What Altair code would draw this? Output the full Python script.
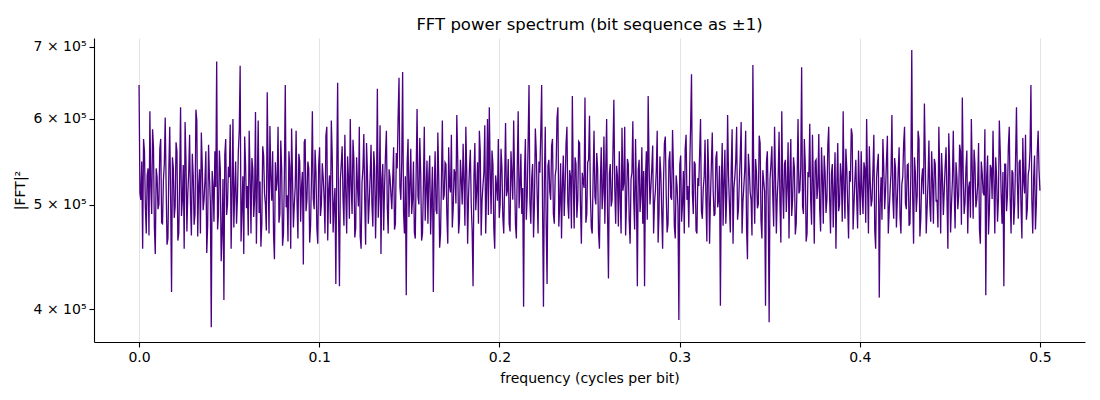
import altair as alt
import pandas as pd

# |FFT|^2 values, in thousands
power_k = [
    645, 512, 505, 548, 455, 575, 560, 498, 470, 532, 540, 468, 610, 520, 490, 587, 565, 476, 450, 540,
    530, 495, 500, 563, 575, 481, 480, 527, 545, 602, 520, 459, 465, 538, 590, 507, 415, 553, 540, 486,
    498, 571, 560, 463, 470, 529, 615, 488, 505, 544, 455, 596, 548, 472, 512, 535, 580, 501, 468, 557,
    532, 479, 490, 612, 598, 467, 520, 539, 470, 583, 545, 494, 505, 526, 560, 451, 478, 568, 530, 503,
    385, 537, 520, 482, 560, 519, 678, 474, 490, 561, 540, 443, 470, 528, 408, 556, 575, 489, 500, 542,
    530, 593, 455, 511, 600, 476, 515, 548, 480, 507, 560, 585, 672, 462, 495, 531, 450, 578, 545, 496,
    520, 468, 585, 533, 470, 552, 540, 487, 505, 609, 460, 524, 598, 491, 525, 457, 480, 566, 555, 512,
    500, 473, 635, 538, 470, 591, 530, 504, 560, 469, 445, 547, 515, 525, 590, 481, 490, 573, 540, 458,
    470, 534, 645, 497, 510, 462, 560, 541, 455, 588, 530, 476, 500, 519, 585, 503, 465, 557, 548, 482,
    520, 536, 440, 571, 575, 493, 505, 548, 540, 461, 478, 529, 610, 506, 495, 562, 535, 475, 460, 544,
    565, 488, 500, 546, 530, 507, 470, 579, 590, 463, 515, 532, 480, 598, 555, 471, 500, 518, 422, 539,
    648, 492, 420, 527, 545, 566, 505, 478, 580, 513, 470, 554, 530, 485, 600, 521, 490, 574, 550, 466,
    475, 553, 520, 498, 590, 467, 455, 524, 540, 581, 505, 459, 570, 536, 480, 502, 530, 568, 500, 477,
    560, 541, 465, 515, 640, 486, 510, 592, 450, 528, 545, 473, 520, 556, 585, 497, 470, 539, 530, 511,
    495, 527, 565, 474, 480, 558, 540, 603, 655, 519, 505, 548, 663, 492, 470, 531, 412, 546, 575, 487,
    520, 563, 490, 505, 548, 471, 465, 537, 613, 509, 500, 576, 535, 463, 470, 522, 590, 483, 515, 549,
    480, 531, 555, 469, 505, 542, 415, 517, 560, 494, 490, 583, 530, 456, 470, 528, 598, 505, 510, 547,
    545, 488, 460, 565, 520, 513, 580, 476, 495, 539, 535, 501, 605, 552, 470, 484, 550, 527, 500, 569,
    525, 478, 590, 536, 460, 509, 540, 562, 500, 473, 420, 531, 570, 494, 515, 547, 480, 585, 560, 468,
    505, 521, 535, 592, 470, 514, 600, 489, 615, 538, 490, 561, 545, 475, 455, 532, 520, 504, 575, 486,
    500, 563, 540, 487, 470, 524, 595, 509, 515, 551, 480, 472, 560, 534, 505, 598, 530, 479, 465, 543,
    610, 496, 520, 557, 490, 518, 402, 536, 575, 484, 510, 571, 645, 503, 480, 529, 545, 466, 500, 588,
    560, 511, 470, 548, 535, 582, 645, 497, 402, 526, 590, 479, 422, 543, 550, 514, 505, 566, 575, 490,
    480, 532, 540, 601, 615, 477, 500, 546, 465, 521, 555, 488, 520, 569, 590, 502, 485, 538, 530, 475,
    630, 527, 475, 553, 545, 486, 505, 572, 570, 499, 460, 535, 525, 518, 628, 481, 490, 547, 550, 604,
    510, 476, 470, 529, 585, 508, 500, 558, 540, 471, 455, 523, 565, 495, 515, 578, 480, 542, 600, 489,
    427, 534, 545, 498, 505, 561, 625, 517, 480, 543, 530, 477, 560, 506, 470, 589, 515, 523, 590, 468,
    500, 551, 545, 483, 460, 528, 535, 597, 505, 474, 575, 512, 420, 539, 550, 492, 510, 565, 480, 537,
    420, 529, 560, 484, 630, 545, 500, 519, 540, 567, 470, 502, 515, 538, 585, 461, 490, 554, 535, 493,
    455, 526, 570, 578, 510, 471, 480, 549, 560, 508, 505, 586, 540, 477, 465, 532, 520, 496, 391, 544,
    555, 482, 500, 537, 470, 563, 580, 505, 520, 476, 540, 591, 660, 511, 490, 548, 545, 473, 470, 529,
    520, 558, 600, 493, 485, 517, 530, 574, 505, 462, 575, 536, 460, 507, 545, 583, 515, 488, 490, 552,
    560, 497, 505, 543, 403, 521, 570, 478, 525, 562, 480, 509, 605, 532, 500, 471, 540, 587, 460, 518,
    530, 549, 590, 484, 495, 526, 555, 596, 470, 503, 520, 539, 585, 475, 445, 557, 540, 513, 505, 468,
    673, 522, 480, 551, 535, 496, 500, 579, 570, 483, 465, 538, 525, 514, 403, 547, 560, 502, 389, 528,
    545, 566, 510, 477, 590, 533, 470, 509, 530, 584, 500, 461, 610, 519, 485, 545, 550, 492, 520, 571,
    465, 534, 575, 488, 505, 553, 540, 469, 480, 527, 600, 512, 515, 541, 670, 498, 490, 575, 545, 462,
    470, 536, 530, 594, 505, 479, 580, 523, 460, 548, 550, 506, 520, 581, 495, 472, 565, 530, 480, 555,
    535, 491, 505, 567, 590, 508, 470, 534, 545, 476, 515, 559, 455, 521, 570, 493, 500, 546, 530, 482,
    610, 517, 485, 563, 540, 499, 465, 537, 525, 588, 580, 474, 500, 528, 550, 506, 475, 561, 520, 489,
    560, 513, 490, 547, 540, 481, 600, 524, 470, 566, 525, 498, 505, 539, 580, 473, 455, 529, 545, 557,
    410, 502, 530, 484, 575, 541, 495, 516, 550, 579, 470, 493, 515, 535, 605, 507, 485, 552, 540, 476,
    505, 538, 565, 487, 470, 522, 530, 569, 590, 501, 495, 544, 545, 478, 480, 536, 695, 509, 460, 553,
    535, 492, 510, 585, 575, 467, 485, 528, 540, 511, 620, 549, 470, 496, 525, 573, 500, 482, 560, 527,
    480, 551, 545, 503, 505, 476, 590, 532, 470, 558, 530, 489, 515, 543, 565, 507, 455, 582, 540, 471,
    500, 526, 585, 514, 475, 547, 530, 495, 510, 568, 560, 479, 628, 534, 490, 502, 540, 561, 470, 518,
    525, 486, 600, 539, 485, 562, 545, 497, 505, 521, 570, 474, 460, 548, 535, 513, 510, 587, 412, 531,
    555, 469, 495, 544, 540, 506, 585, 527, 470, 553, 530, 482, 505, 598, 560, 511, 480, 536, 420, 545,
    545, 493, 510, 566, 590, 507, 470, 538, 535, 479, 500, 552, 615, 524, 485, 547, 550, 498, 465, 576,
    525, 512, 580, 484, 495, 533, 540, 561, 645, 505, 470, 529, 555, 474, 500, 558, 585, 537, 515,
]

n = len(power_k)
freq = [i * 0.5 / (n - 1) for i in range(n)]
df = pd.DataFrame({"freq": freq, "power": [v * 1000 for v in power_k]})

x_ticks = [0.0, 0.1, 0.2, 0.3, 0.4, 0.5]
y_ticks = [400000, 500000, 600000, 700000]

FONT = "DejaVu Sans"

chart = alt.Chart(df).mark_line(color="#4B0082", strokeWidth=1.3, clip=True).encode(
    x=alt.X(
        "freq:Q",
        scale=alt.Scale(domain=[-0.025, 0.525], nice=False, zero=False),
        axis=alt.Axis(
            values=x_ticks, format=".1f", title="frequency (cycles per bit)",
            grid=True, gridColor="#e3e3e3", gridWidth=1,
            titlePadding=7,
        ),
    ),
    y=alt.Y(
        "power:Q",
        scale=alt.Scale(type="log", domain=[373000, 713000], nice=False),
        axis=alt.Axis(
            values=y_ticks, grid=False, title="|FFT|²",
            labelExpr="format(datum.value / 100000, 'd') + ' × 10⁵'",
            titlePadding=6,
        ),
    ),
).properties(
    width=991,
    height=304,
    title=alt.TitleParams(
        "FFT power spectrum (bit sequence as ±1)",
        font=FONT, fontSize=16.5, fontWeight="normal", color="black", offset=5,
    ),
    padding={"left": 86, "top": 30, "right": 5, "bottom": 50},
    autosize=alt.AutoSizeParams(type="none"),
).configure_view(
    stroke=None
).configure_axis(
    labelFont=FONT, titleFont=FONT, labelFontSize=14, titleFontSize=14,
    titleFontWeight="normal", labelColor="black", titleColor="black",
    domainColor="black", tickColor="black", tickSize=5, tickWidth=1.1,
    domainWidth=1.1, labelPadding=3,
)

chart.save("out.html", embed_options={"renderer": "svg", "actions": False})
